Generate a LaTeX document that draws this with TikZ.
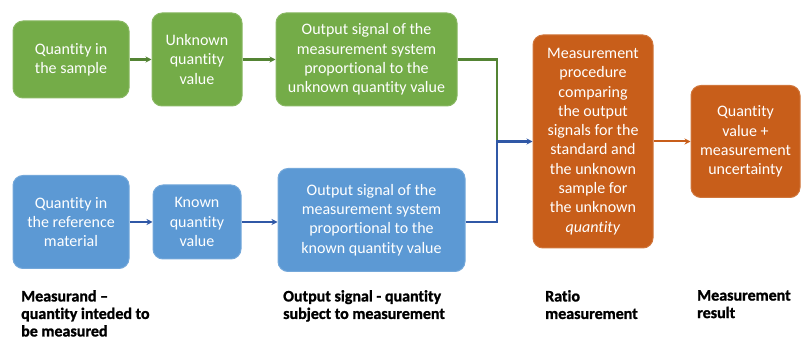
\documentclass[tikz,border=0pt]{standalone}
\usepackage{fontspec}
\setmainfont{Carlito}[Ligatures=NoCommon, BoldFeatures={FakeBold=1.3}]
\usetikzlibrary{arrows.meta}
\definecolor{boxgreen}{RGB}{116,172,72}
\definecolor{boxblue}{RGB}{92,153,212}
\definecolor{boxorange}{RGB}{200,94,26}
\definecolor{linegreen}{RGB}{84,132,52}
\definecolor{lineblue}{RGB}{48,88,166}
\tikzset{
  flowbox/.style={rounded corners=10pt, align=center, text=white, inner sep=0pt,
    font=\fontsize{16}{19.3}\selectfont},
  greenbox/.style={flowbox, fill=boxgreen, draw=boxgreen!85!white, line width=1pt},
  bluebox/.style={flowbox, fill=boxblue, draw=boxblue!85!white, line width=1pt},
  orangebox/.style={flowbox, fill=boxorange, draw=boxorange!85!white, line width=1pt},
  notelabel/.style={anchor=north west, align=left, inner sep=0pt,
    font=\bfseries\fontsize{16}{17.5}\selectfont},
  tip/.style={-{Stealth[length=6pt,width=6pt]}}
}
\begin{document}
\begin{tikzpicture}[x=1pt, y=-1pt]
        \useasboundingbox (0,0) rectangle (801,347);
        \node[greenbox, minimum width=116pt, minimum height=77pt] (g1) at (71,59.5) {Quantity in\\the sample};
        \node[greenbox, minimum width=90pt, minimum height=93pt] (g2) at (197,59.5) {Unknown\\quantity\\value};
        \node[greenbox, minimum width=181pt, minimum height=93pt] (g3) at (366.5,59.5) {Output signal of the\\measurement system\\proportional to the\\unknown quantity value};
        \node[bluebox, minimum width=116pt, minimum height=93pt] (b1) at (71,222) {Quantity in\\the reference\\material};
        \node[bluebox, minimum width=88pt, minimum height=74pt] (b2) at (197,222) {Known\\quantity\\value};
        \node[bluebox, minimum width=187pt, minimum height=103pt] (b3) at (371.5,220) {Output signal of the\\measurement system\\proportional to the\\known quantity value};
        \node[orangebox, minimum width=120pt, minimum height=213pt] (o1) at (593,141.5) {Measurement\\procedure\\comparing\\the output\\signals for the\\standard and\\the unknown\\sample for\\the unknown\\\textit{quantity}};
        \node[orangebox, minimum width=109pt, minimum height=112pt] (o2) at (745.5,141.5) {Quantity\\value +\\measurement\\uncertainty};
        \coordinate (join) at (497,141.5);
        \draw[linegreen, line width=2.5pt, tip] (g1) -- (g2);
        \draw[linegreen, line width=2.5pt, tip] (g2) -- (g3);
        \draw[lineblue, line width=2.5pt, tip] (b1) -- (b2);
        \draw[lineblue, line width=2.5pt, tip] (b2) -- (b2 -| b3.west);
        \draw[linegreen, line width=2.5pt] (g3.east) -| (join);
        \draw[lineblue, line width=2.5pt, tip] (b3.east |- b2) -| (join) -- (o1.west);
        \draw[boxorange, line width=2pt, tip] (o1) -- (o2);
        \node[notelabel] (n1) at (21,290) {Measurand --\\quantity inteded to\\be measured};
        \node[notelabel] (n2) at (283,290) {Output signal - quantity\\subject to measurement};
        \node[notelabel] (n3) at (545,290) {Ratio\\measurement};
        \node[notelabel] (n4) at (697,290) {Measurement\\result};
    \end{tikzpicture}
\end{document}
